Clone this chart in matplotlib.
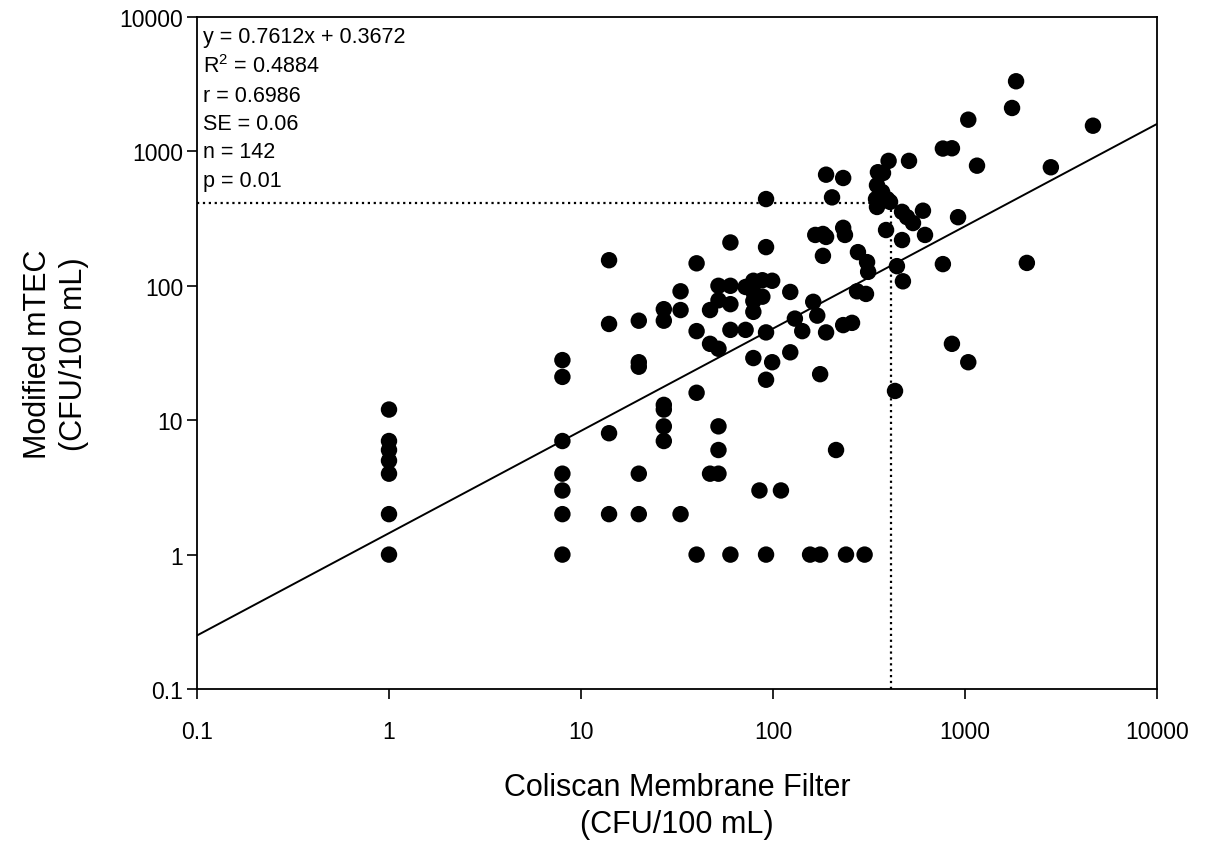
import numpy as np
import matplotlib
matplotlib.use("Agg")
import matplotlib.pyplot as plt

plt.rcParams['font.family'] = ['Liberation Sans', 'DejaVu Sans']
plt.rcParams['mathtext.default'] = 'regular'

# Coliscan membrane filter (x) vs modified mTEC (y), CFU/100 mL
coliscan = [1, 1, 1, 1, 1, 1, 1,
            8, 8, 8, 8, 8, 8, 8,
            14, 14, 14, 14,
            20, 20, 20, 20, 20,
            27, 27, 27, 27, 27, 27,
            33, 33, 33,
            40, 40, 40, 40,
            47, 47, 47,
            52, 52, 52, 52, 52, 52,
            60, 60, 60, 60, 60,
            72, 72,
            79, 79, 79, 79, 79,
            85, 88, 88,
            92, 92, 92, 92, 92,
            99, 99, 110, 123, 123, 130, 142, 156, 162,
            166, 170, 176, 176, 182, 182,
            189, 189, 189, 203, 213,
            232, 232, 232, 237, 240, 258, 274, 277, 300, 305, 309, 313,
            400, 511, 352, 374, 348, 344, 370, 393, 348, 407,
            470, 499, 536, 604, 388, 470, 619, 767, 855, 920,
            432, 442, 475, 767, 855, 1040, 1040, 1155, 1758, 1845,
            2100, 2800, 4640]
mtec = [12, 7, 6, 5, 4, 2, 1,
        28, 21, 7, 4, 3, 2, 1,
        155, 52, 8, 2,
        55, 27, 25, 4, 2,
        67, 55, 13, 12, 9, 7,
        91, 66, 2,
        147, 46, 16, 1,
        66, 37, 4,
        100, 78, 34, 9, 6, 4,
        210, 100, 73, 47, 1,
        98, 47,
        109, 90, 77, 64, 29,
        3, 110, 83,
        442, 194, 45, 20, 1,
        109, 27, 3, 90, 32, 57, 46, 1, 76,
        239, 60, 22, 1, 243, 167,
        671, 231, 45, 455, 6,
        634, 270, 51, 239, 1, 53, 91, 178, 1, 87, 150, 127,
        850, 850, 700, 690, 560, 442, 499, 442, 386, 421,
        355, 324, 293, 362, 260, 219, 239, 1050, 1055, 324,
        16.5, 140, 108, 145, 37, 27, 1722, 783, 2104, 3325,
        148, 762, 1553]

# regression (log10-log10 space; intercept given in natural log)
fit_slope = 0.7612
fit_intercept_ln = 0.3672
threshold = 410  # CFU/100 mL

stats_lines = ["y = 0.7612x + 0.3672", "R$^2$ = 0.4884", "r = 0.6986",
               "SE = 0.06", "n = 142", "p = 0.01"]
ticks = [0.1, 1, 10, 100, 1000, 10000]
tick_labels = ["0.1", "1", "10", "100", "1000", "10000"]

fig = plt.figure(figsize=(12.09, 8.45), dpi=100)
ax = fig.add_axes([197/1209, 1-690/845, (1157-197)/1209, (690-18)/845])

ax.set_xscale('log')
ax.set_yscale('log')
ax.set_xlim(0.1, 10000)
ax.set_ylim(0.1, 10000)

# threshold dotted lines
ax.plot([0.1, threshold], [threshold, threshold], color='black', ls=':', lw=1.6, zorder=1)
ax.plot([threshold, threshold], [0.1, threshold], color='black', ls=':', lw=1.6, zorder=1)

# regression line
xl = np.array([0.1, 10000])
yl = 10 ** (fit_slope * np.log10(xl) + fit_intercept_ln / np.log(10))
ax.plot(xl, yl, color='black', lw=1.4, zorder=2)

ax.scatter(coliscan, mtec, s=140, color='black', edgecolors='none', zorder=3)

ax.set_xticks(ticks)
ax.set_xticklabels(tick_labels)
ax.set_yticks(ticks)
ax.set_yticklabels(tick_labels)
ax.minorticks_off()
ax.tick_params(axis='both', which='major', direction='out', length=7, width=1.2,
               labelsize=16.5)
ax.tick_params(axis='x', pad=15)
ax.tick_params(axis='y', pad=3)
for sp in ax.spines.values():
    sp.set_linewidth(1.3)

ax.set_xlabel("Coliscan Membrane Filter\n(CFU/100 mL)", fontsize=22, labelpad=21,
              linespacing=1.3)
ax.set_ylabel("Modified mTEC\n(CFU/100 mL)", fontsize=22, labelpad=22,
              linespacing=1.25)

line_py = [37, 67, 97, 125, 153, 181]
for txt, py in zip(stats_lines, line_py):
    ax.text(6/960, 1 - (py - 18)/672, txt, transform=ax.transAxes,
            ha='left', va='center', fontsize=15.5)

fig.savefig("out.png", dpi=100)
